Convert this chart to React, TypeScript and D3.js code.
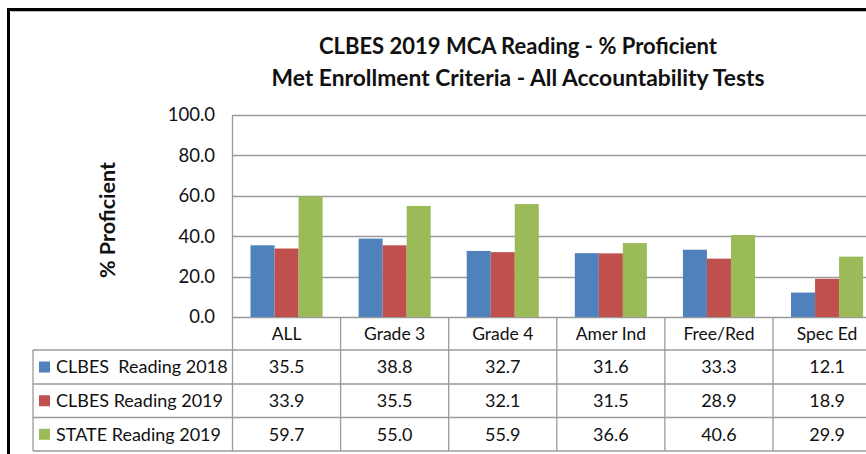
import React from "react";
import * as d3 from "d3";

const categories = ["ALL", "Grade 3", "Grade 4", "Amer Ind", "Free/Red", "Spec Ed"];
const seriesNames = ["CLBES  Reading 2018", "CLBES Reading 2019", "STATE Reading 2019"];
const reading2018 = [35.5, 38.8, 32.7, 31.6, 33.3, 12.1];
const reading2019 = [33.9, 35.5, 32.1, 31.5, 28.9, 18.9];
const state2019 = [59.7, 55.0, 55.9, 36.6, 40.6, 29.9];
const yTicks = [0, 20, 40, 60, 80, 100];
const titleLines = ["CLBES 2019 MCA Reading - % Proficient", "Met Enrollment Criteria - All Accountability Tests"];
const yAxisTitle = "% Proficient";

const colors = ["#4F81BD", "#C0504D", "#9BBB59"];
const FONT = "Lato, 'Open Sans', sans-serif";

export default function App() {
  const W = 866, H = 454;
  const series = [reading2018, reading2019, state2019];
  const plotLeft = 232.5;
  const catW = 108.1;
  const x = d3.scaleBand<string>().domain(categories).range([plotLeft, plotLeft + catW * categories.length]).paddingInner(0).paddingOuter(0);
  const xs = d3.scaleBand<number>().domain([0, 1, 2]).range([0, x.bandwidth()]).paddingInner(0).paddingOuter(0.75);
  const y = d3.scaleLinear().domain([0, 100]).range([317, 115]);
  const gridColor = "#9a9a9a";
  const tableLeft = 33;
  const rowLines = [350, 384, 417.5, 451];
  const headerTop = y(0);
  const right = W + 20;
  const fmt = d3.format(".1f");
  const titleWidths = [398, 493];

  return (
    <svg width={W} height={H} style={{ position: "absolute", left: 0, top: 0, background: "#fff" }} fontFamily={FONT}>
      <rect x={0} y={0} width={W} height={H} fill="#fff" />
      {/* frame */}
      <rect x={8.5} y={9.5} width={W + 50} height={H + 50} fill="none" stroke="#000" strokeWidth={3} />
      <line x1={11} x2={W} y1={11.5} y2={11.5} stroke="#bbb" strokeWidth={1} />
      {/* title */}
      {titleLines.map((t, i) => (
        <text key={i} x={518} y={54 + i * 32} textAnchor="middle" fontSize={22} fontWeight="bold" fill="#111" textLength={titleWidths[i]} lengthAdjust="spacingAndGlyphs">{t}</text>
      ))}
      {/* y axis title */}
      <text transform={`translate(115,220) rotate(-90)`} textAnchor="middle" fontSize={20} fontWeight="bold" fill="#111" textLength={116} lengthAdjust="spacingAndGlyphs">{yAxisTitle}</text>
      {/* gridlines */}
      {yTicks.map((t) => (
        <line key={t} x1={plotLeft} x2={right} y1={Math.round(y(t)) + 0.5} y2={Math.round(y(t)) + 0.5} stroke={gridColor} strokeWidth={1.3} />
      ))}
      {yTicks.map((t) => (
        <text key={"l" + t} x={215} y={y(t)} dy="0.35em" textAnchor="end" fontSize={18.5} fill="#111">{fmt(t)}</text>
      ))}
      {/* bars */}
      {categories.map((c, ci) => (
        <g key={c} transform={`translate(${x(c)},0)`}>
          {series.map((s, si) => (
            <rect key={si} x={xs(si)} y={y(s[ci])} width={xs.bandwidth()} height={y(0) - y(s[ci])} fill={colors[si]} />
          ))}
        </g>
      ))}
      {/* table lines */}
      <line x1={plotLeft} x2={plotLeft} y1={y(100)} y2={rowLines[3]} stroke={gridColor} strokeWidth={1.3} />
      {categories.map((c) => (
        <line key={"v" + c} x1={(x(c) as number) + x.bandwidth()} x2={(x(c) as number) + x.bandwidth()} y1={headerTop} y2={rowLines[3]} stroke={gridColor} strokeWidth={1.3} />
      ))}
      {rowLines.map((r) => (
        <line key={"r" + r} x1={tableLeft} x2={right} y1={r} y2={r} stroke={gridColor} strokeWidth={1.3} />
      ))}
      <line x1={tableLeft} x2={tableLeft} y1={rowLines[0]} y2={rowLines[3]} stroke={gridColor} strokeWidth={1.3} />
      {/* category labels */}
      {categories.map((c) => (
        <text key={"c" + c} x={(x(c) as number) + x.bandwidth() / 2} y={(headerTop + rowLines[0]) / 2} dy="0.35em" textAnchor="middle" fontSize={17.5} fill="#111">{c}</text>
      ))}
      {/* rows */}
      {series.map((s, si) => {
        const cy = (rowLines[si] + rowLines[si + 1]) / 2;
        return (
          <g key={"row" + si}>
            <rect x={39} y={cy - 5.5} width={11} height={11} fill={colors[si]} />
            <text x={56} y={cy} dy="0.35em" fontSize={18} fill="#111" style={{ whiteSpace: "pre" }}>{seriesNames[si]}</text>
            {categories.map((c, ci) => (
              <text key={c} x={(x(c) as number) + x.bandwidth() / 2} y={cy} dy="0.35em" textAnchor="middle" fontSize={18} fill="#111">{fmt(s[ci])}</text>
            ))}
          </g>
        );
      })}
    </svg>
  );
}
